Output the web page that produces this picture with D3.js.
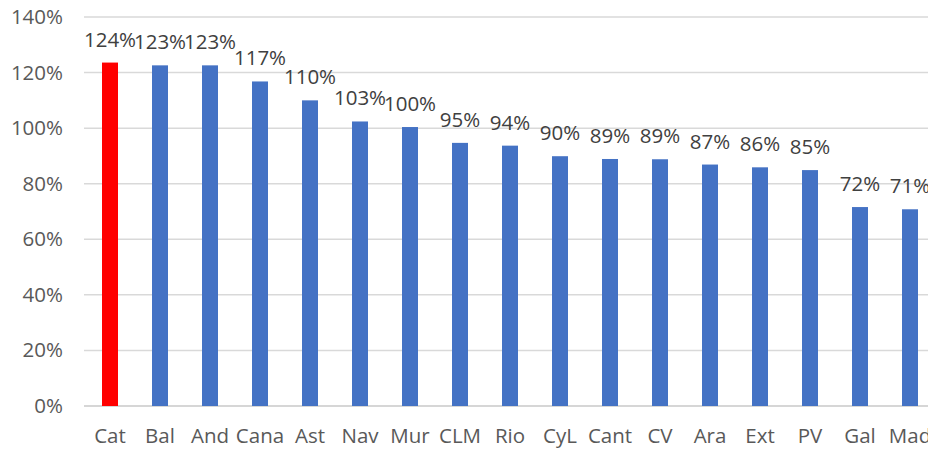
<!DOCTYPE html>
<html lang="en">
<head>
    <meta charset="UTF-8">
    <title>Regions</title>
    <script src="https://cdnjs.cloudflare.com/ajax/libs/d3/7.8.5/d3.min.js"></script>
    <style>
        body { margin: 0; background: #fff; font-family: "Open Sans", sans-serif; }
        svg { display: block; }
    </style>
</head>
<body>
    <div id="chart"></div>

    <script>
        // Data
        var regions = ["Cat", "Bal", "And", "Cana", "Ast", "Nav", "Mur", "CLM", "Rio", "CyL", "Cant", "CV", "Ara", "Ext", "PV", "Gal", "Mad"];
        var values = [123.6, 122.6, 122.6, 116.8, 110.0, 102.4, 100.4, 94.7, 93.7, 89.9, 88.9, 88.8, 86.9, 85.9, 84.9, 71.6, 70.8];
        var labels = ["124%", "123%", "123%", "117%", "110%", "103%", "100%", "95%", "94%", "90%", "89%", "89%", "87%", "86%", "85%", "72%", "71%"];
        var yTicks = [0, 20, 40, 60, 80, 100, 120, 140];
        var highlight = "Cat";

        var width = 928, height = 452;
        var plotLeft = 85, plotRight = 935, plotTop = 17, plotBottom = 406;
        var fontSize = 20.5;

        var svg = d3.select("#chart").append("svg")
            .attr("width", width)
            .attr("height", height);

        var x = d3.scaleBand()
            .domain(regions)
            .range([plotLeft, plotRight])
            .paddingInner(0.68)
            .paddingOuter(0.34);

        var y = d3.scaleLinear()
            .domain([0, 140])
            .range([plotBottom, plotTop]);

        // gridlines
        svg.append("g")
            .selectAll("line")
            .data(yTicks)
            .enter().append("line")
            .attr("x1", 84)
            .attr("x2", width)
            .attr("y1", function(d) { return y(d); })
            .attr("y2", function(d) { return y(d); })
            .attr("stroke", function(d) { return d === 0 ? "#c8c8c8" : "#d9d9d9"; })
            .attr("stroke-width", 1.5);

        // y axis labels
        var yAxis = svg.append("g")
            .attr("transform", "translate(63,0)")
            .call(d3.axisLeft(y).tickValues(yTicks).tickSize(0).tickPadding(0)
                .tickFormat(function(d) { return d + "%"; }));
        yAxis.select(".domain").remove();
        yAxis.selectAll("text")
            .attr("font-family", "Open Sans, sans-serif")
            .attr("font-size", fontSize)
            .attr("fill", "#595959");

        // bars
        svg.append("g")
            .selectAll("rect")
            .data(regions)
            .enter().append("rect")
            .attr("x", function(d) { return x(d); })
            .attr("width", x.bandwidth())
            .attr("y", function(d, i) { return y(values[i]); })
            .attr("height", function(d, i) { return y(0) - y(values[i]); })
            .attr("fill", function(d) { return d === highlight ? "#ff0000" : "#4472c4"; });

        // value labels
        svg.append("g")
            .selectAll("text")
            .data(regions)
            .enter().append("text")
            .attr("x", function(d) { return x(d) + x.bandwidth() / 2; })
            .attr("y", function(d, i) { return y(values[i]) - 16; })
            .attr("text-anchor", "middle")
            .attr("font-size", fontSize)
            .attr("fill", "#404040")
            .text(function(d, i) { return labels[i]; });

        // x axis labels
        var xAxis = svg.append("g")
            .attr("transform", "translate(0," + (plotBottom + 22) + ")")
            .call(d3.axisBottom(x).tickSize(0).tickPadding(0));
        xAxis.select(".domain").remove();
        xAxis.selectAll("text")
            .attr("font-family", "Open Sans, sans-serif")
            .attr("font-size", fontSize)
            .attr("fill", "#595959");
    </script>
</body>
</html>
